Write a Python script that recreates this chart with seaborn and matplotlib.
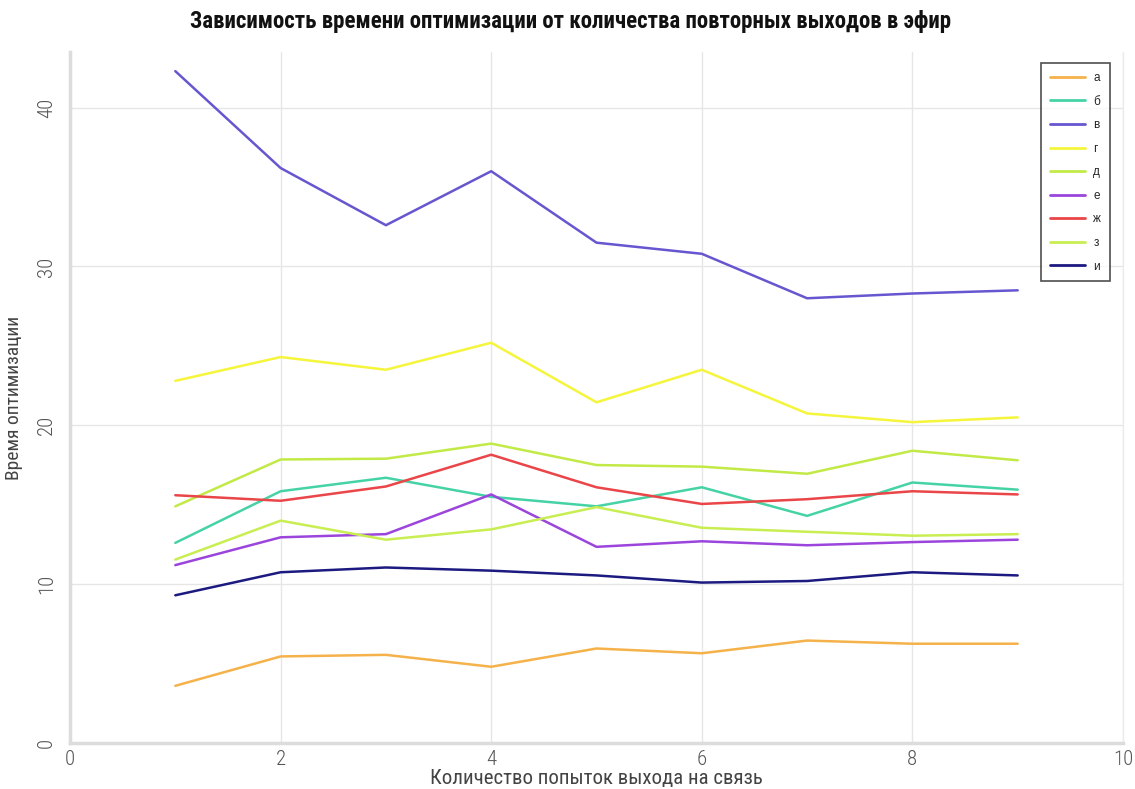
import numpy as np
import pandas as pd
import matplotlib
matplotlib.use("Agg")
import matplotlib.pyplot as plt
import seaborn as sns

# Number of connection attempts
attempts = [1, 2, 3, 4, 5, 6, 7, 8, 9]

# Optimisation time per series
s_a = [3.6, 5.45, 5.55, 4.8, 5.95, 5.65, 6.45, 6.25, 6.25]
s_b = [12.6, 15.85, 16.7, 15.5, 14.9, 16.1, 14.3, 16.4, 15.95]
s_v = [42.3, 36.2, 32.6, 36.0, 31.5, 30.8, 28.0, 28.3, 28.5]
s_g = [22.8, 24.3, 23.5, 25.2, 21.45, 23.5, 20.75, 20.2, 20.5]
s_d = [14.9, 17.85, 17.9, 18.85, 17.5, 17.4, 16.95, 18.4, 17.8]
s_e = [11.2, 12.95, 13.15, 15.65, 12.35, 12.7, 12.45, 12.65, 12.8]
s_zh = [15.6, 15.25, 16.15, 18.15, 16.1, 15.05, 15.35, 15.85, 15.65]
s_z = [11.55, 14.0, 12.8, 13.45, 14.85, 13.55, 13.3, 13.05, 13.15]
s_i = [9.3, 10.75, 11.05, 10.85, 10.55, 10.1, 10.2, 10.75, 10.55]

labels = ["а", "б", "в", "г", "д", "е", "ж", "з", "и"]
series = [s_a, s_b, s_v, s_g, s_d, s_e, s_zh, s_z, s_i]
colors = ["#f5b24a", "#45d3a6", "#6656d0", "#f5f53c", "#c2ea46",
          "#9b45dc", "#ea4548", "#c8ee52", "#1c1a80"]

df = pd.DataFrame({
    "x": np.tile(attempts, len(labels)),
    "y": np.concatenate(series),
    "s": np.repeat(labels, len(attempts)),
})

sns.set_theme(style="whitegrid")
plt.rcParams["font.family"] = ["Roboto Condensed", "DejaVu Sans"]

fig = plt.figure(figsize=(11.35, 7.89), dpi=100)
ax = fig.add_axes([0.0617, 0.0583, 0.9277, 0.8757])

sns.lineplot(data=df, x="x", y="y", hue="s", palette=dict(zip(labels, colors)),
             linewidth=1.8, ax=ax, legend=True)

ax.set_xlim(0, 10)
ax.set_ylim(0, 43.5)
ax.set_xticks([0, 2, 4, 6, 8, 10])
ax.set_yticks([0, 10, 20, 30, 40])
ax.grid(True, color="#e6e6e6", linewidth=1)
ax.set_facecolor("white")
ax.spines["top"].set_visible(False)
for side in ["left", "bottom"]:
    ax.spines[side].set_color("#dcdcdc")
    ax.spines[side].set_linewidth(2.5)
ax.spines["right"].set_color("#ececec")
ax.spines["right"].set_linewidth(1)

ax.tick_params(axis="x", labelsize=15, colors="#555555", pad=5, length=0)
ax.tick_params(axis="y", labelsize=15, colors="#555555", pad=10, length=0)
for t in ax.get_xticklabels():
    t.set_fontweight(300)
for t in ax.get_yticklabels():
    t.set_fontweight(300)
    t.set_rotation(90)
    t.set_va("center")

ax.set_xlabel("Количество попыток выхода на связь", fontsize=15, color="#444444",
              labelpad=0)
ax.set_ylabel("Время оптимизации", fontsize=14, color="#444444", labelpad=10)
fig.suptitle("Зависимость времени оптимизации от количества повторных выходов в эфир",
             fontsize=16.5, fontweight="bold", color="#111111", x=0.503, y=0.987)

leg = ax.legend(loc="upper right", bbox_to_anchor=(0.9877, 0.984), borderaxespad=0,
                prop={"family": ["Liberation Sans", "DejaVu Sans"], "size": 8.5},
                frameon=True, fancybox=False, edgecolor="#222222",
                handlelength=3.0, handletextpad=0.7, labelspacing=0.98,
                borderpad=0.75, title=None)
leg.get_frame().set_linewidth(1.2)
for h in leg.get_lines():
    h.set_linewidth(2.0)

fig.savefig("out.png", dpi=100, facecolor="white")
